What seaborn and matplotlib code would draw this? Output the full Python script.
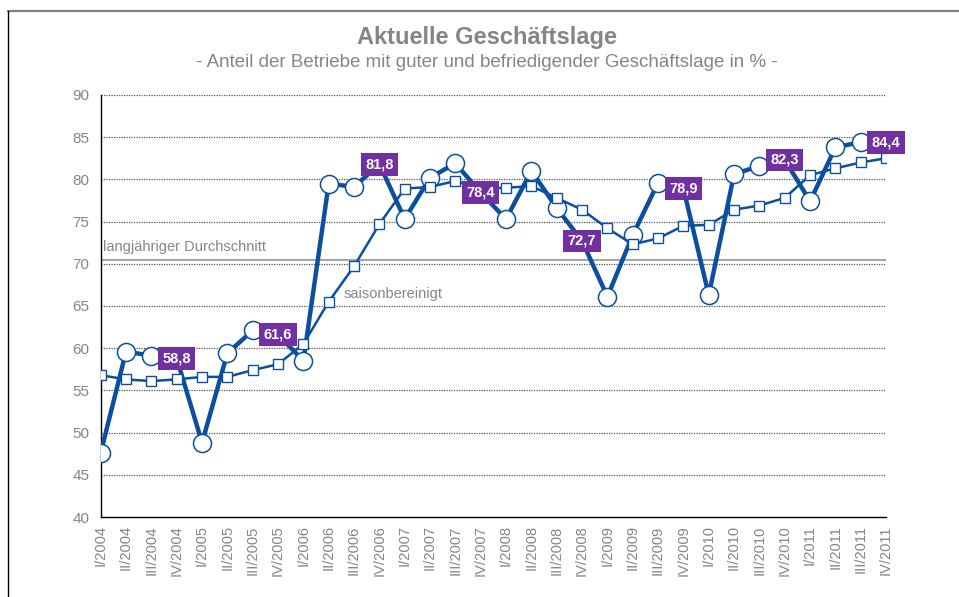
import numpy as np
import pandas as pd
import matplotlib
matplotlib.use("Agg")
import matplotlib.pyplot as plt
from matplotlib.lines import Line2D
import seaborn as sns

quarters = [f"{q}/{y}" for y in range(2004, 2012) for q in ["I", "II", "III", "IV"]]
aktuell = [47.6, 59.6, 59.1, 58.8, 48.8, 59.4, 62.1, 61.6,
           58.5, 79.5, 79.1, 81.8, 75.3, 80.2, 81.9, 78.4,
           75.3, 81.0, 76.6, 72.7, 66.1, 73.4, 79.6, 78.9,
           66.3, 80.6, 81.6, 82.3, 77.4, 83.8, 84.4, 84.4]
saisonbereinigt = [56.8, 56.3, 56.1, 56.3, 56.6, 56.6, 57.4, 58.1,
                   60.5, 65.5, 69.7, 74.7, 78.9, 79.1, 79.8, 78.9,
                   79.0, 79.2, 77.8, 76.4, 74.2, 72.3, 73.0, 74.5,
                   74.6, 76.4, 76.9, 77.8, 80.5, 81.3, 82.0, 82.5]
durchschnitt = 70.5
label_quarters = ["IV/2004", "IV/2005", "IV/2006", "IV/2007",
                  "IV/2008", "IV/2009", "IV/2010", "IV/2011"]

df = pd.DataFrame({"Quartal": quarters, "pos": np.arange(len(quarters)),
                   "aktuell": aktuell, "saison": saisonbereinigt})

blue = "#0b4f9e"
purple = "#7030a0"
grey = "#858585"

sns.set_style("white")
plt.rcParams["font.family"] = ["Liberation Sans", "DejaVu Sans"]

fig = plt.figure(figsize=(9.59, 5.97), dpi=100)
ax = fig.add_axes([0.105, 0.134, 0.819, 0.707])

for y in range(45, 91, 5):
    ax.axhline(y, color="#555555", lw=0.9, ls=(0, (1, 1)), zorder=1)
ax.axhline(durchschnitt, color="#a6a6a6", lw=1.5, zorder=1)

sns.lineplot(data=df, x="pos", y="aktuell", ax=ax, color=blue, lw=3.2,
             marker="o", markersize=13, markerfacecolor="white",
             markeredgecolor=blue, markeredgewidth=1.1, zorder=3)
sns.lineplot(data=df, x="pos", y="saison", ax=ax, color=blue, lw=1.8,
             marker="s", markersize=7, markerfacecolor="white",
             markeredgecolor=blue, markeredgewidth=1.0, zorder=4)

for q in label_quarters:
    row = df[df["Quartal"] == q].iloc[0]
    ax.text(row["pos"], row["aktuell"], f"{row['aktuell']:.1f}".replace(".", ","),
            ha="center", va="center", color="white", fontsize=10.5, fontweight="bold",
            bbox=dict(boxstyle="square,pad=0.3", fc=purple, ec="none"), zorder=6)

ax.text(0.1, durchschnitt + 0.7, "langjähriger Durchschnitt", color=grey,
        fontsize=10.5, ha="left", va="bottom", zorder=5)
ax.text(9.6, 66.4, "saisonbereinigt", color=grey, fontsize=10.5,
        ha="left", va="center", zorder=5)

ax.set_xlim(0, len(quarters) - 1)
ax.set_ylim(40, 90)
ax.set_yticks(range(40, 91, 5))
ax.set_xticks(df["pos"])
ax.set_xticklabels(quarters, rotation=90)
ax.set_xlabel("")
ax.set_ylabel("")
ax.tick_params(axis="x", direction="inout", length=8, width=1, color="black",
               labelcolor=grey, labelsize=10.5, pad=2)
ax.tick_params(axis="y", direction="out", length=5, width=0.9, color="#555555",
               labelcolor=grey, labelsize=11, pad=3)
for s in ["top", "right"]:
    ax.spines[s].set_visible(False)
for s in ["left", "bottom"]:
    ax.spines[s].set_color("black")
    ax.spines[s].set_linewidth(1)
    ax.spines[s].set_zorder(2)

fig.text(0.508, 0.938, "Aktuelle Geschäftslage", ha="center", va="center",
         fontsize=17, fontweight="bold", color=grey)
fig.text(0.508, 0.896, "- Anteil der Betriebe mit guter und befriedigender Geschäftslage in % -",
         ha="center", va="center", fontsize=13.5, color=grey)

fig.add_artist(Line2D([8 / 959, 1], [1 - 11 / 597, 1 - 11 / 597],
                      transform=fig.transFigure, color="#808080", lw=1.6))
fig.add_artist(Line2D([8 / 959, 8 / 959], [0, 1 - 11 / 597],
                      transform=fig.transFigure, color="black", lw=1))

fig.savefig("out.png", dpi=100)
